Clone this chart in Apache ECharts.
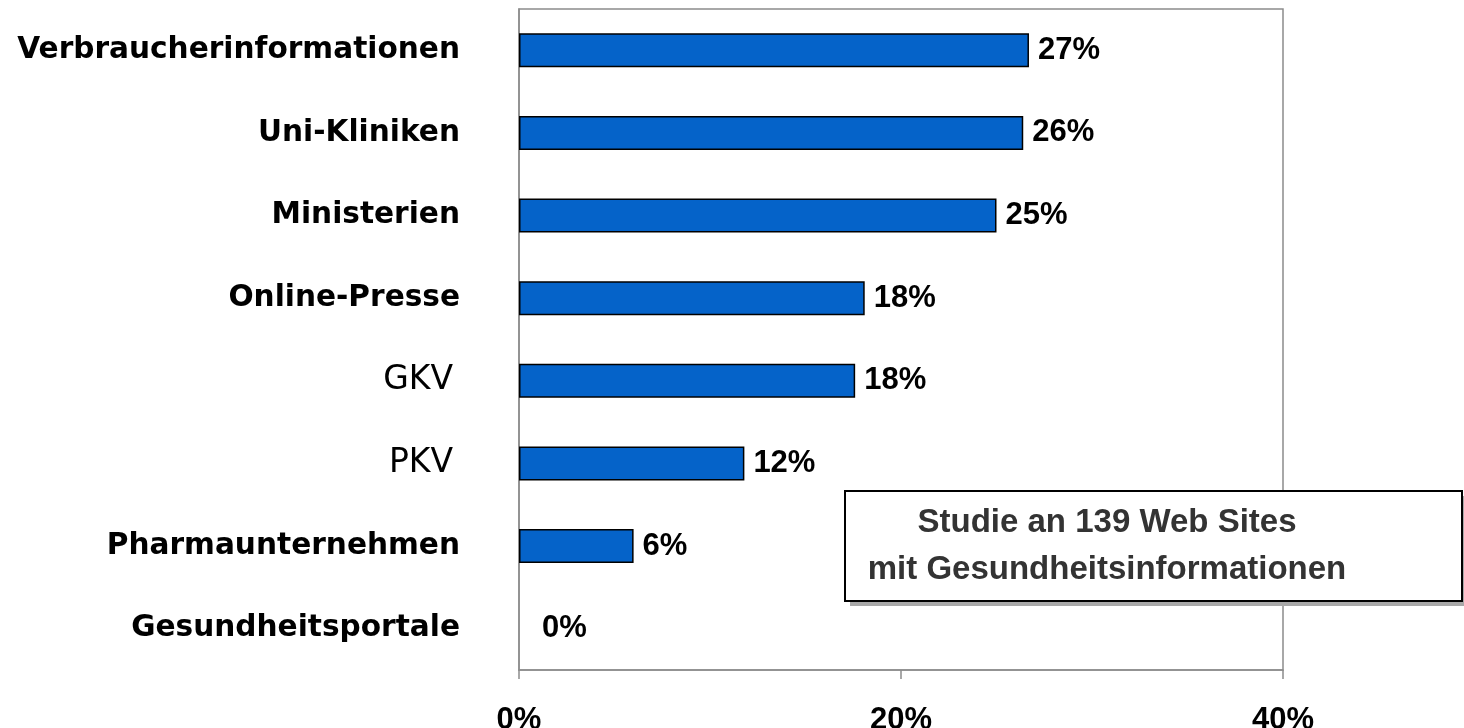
<!DOCTYPE html>
<html>
<head>
<meta charset="utf-8">
<script src="https://cdn.jsdelivr.net/npm/echarts@6/dist/echarts.min.js"></script>
<style>
html,body{margin:0;padding:0;background:#fff;}
#chart{width:1464px;height:728px;}
</style>
</head>
<body>
<div id="chart"></div>
<script>
const categories = ['Verbraucherinformationen','Uni-Kliniken','Ministerien','Online-Presse','GKV','PKV','Pharmaunternehmen','Gesundheitsportale'];
const values = [26.7, 26.4, 25.0, 18.1, 17.6, 11.8, 6.0, 0];
const valueLabels = ['27%','26%','25%','18%','18%','12%','6%','0%'];
const plainCategories = ['GKV','PKV'];
const boxLines = ['Studie an 139 Web Sites','mit Gesundheitsinformationen'];

const chart = echarts.init(document.getElementById('chart'), null, {renderer:'canvas'});
const barData = values.map(function(v){
  return v === 0 ? {value:v, itemStyle:{borderWidth:0}, label:{distance:23}} : v;
});
const option = {
  backgroundColor:'#fff',
  animation:false,
  grid:{left:519, top:9, width:764, height:661, show:true, borderColor:'#8c8c8c', borderWidth:1.5, backgroundColor:'transparent', containLabel:false, outerBoundsMode:'none'},
  xAxis:{
    type:'value', min:0, max:40, interval:20,
    axisLine:{show:true, lineStyle:{color:'#8c8c8c', width:1.5}},
    axisTick:{show:true, length:9, lineStyle:{color:'#8c8c8c', width:1.5}},
    splitLine:{show:false},
    axisLabel:{formatter:'{value}%', margin:35, fontFamily:'Liberation Sans', fontWeight:'bold', fontSize:31, color:'#000'}
  },
  yAxis:{
    type:'category', inverse:true, data:categories,
    axisLine:{show:true, lineStyle:{color:'#8c8c8c', width:1.5}},
    axisTick:{show:false},
    axisLabel:{
      margin:59,
      formatter:function(v){ return plainCategories.indexOf(v)>=0 ? '{n|'+v+'}' : '{b|'+v+'}'; },
      rich:{
        b:{fontFamily:'DejaVu Sans', fontWeight:'bold', fontSize:29.6, color:'#000'},
        n:{fontFamily:'DejaVu Sans', fontWeight:'normal', fontSize:33, color:'#000', padding:[0,7,0,0]}
      }
    }
  },
  series:[{
    type:'bar', data:barData, barWidth:34,
    itemStyle:{color:'#0563C9', borderColor:'#000', borderWidth:1.5},
    label:{show:true, position:'right', distance:9,
      formatter:function(p){return valueLabels[p.dataIndex];},
      fontFamily:'Liberation Sans', fontWeight:'bold', fontSize:31, color:'#000'}
  }],
  graphic:[
    {type:'rect', shape:{x:850, y:496, width:617, height:110}, style:{fill:'#a8a8a8'}, z:9},
    {type:'rect', shape:{x:845, y:491, width:617, height:110}, style:{fill:'#fff', stroke:'#000', lineWidth:2}, z:10},
    {type:'text', x:1107, y:523, style:{text:boxLines[0], fontFamily:'Liberation Sans', fontWeight:'bold', fontSize:33, fill:'#333', align:'center', verticalAlign:'middle'}, z:11},
    {type:'text', x:1107, y:570, style:{text:boxLines[1], fontFamily:'Liberation Sans', fontWeight:'bold', fontSize:33, fill:'#333', align:'center', verticalAlign:'middle'}, z:11}
  ]
};
chart.setOption(option);
</script>
</body>
</html>
